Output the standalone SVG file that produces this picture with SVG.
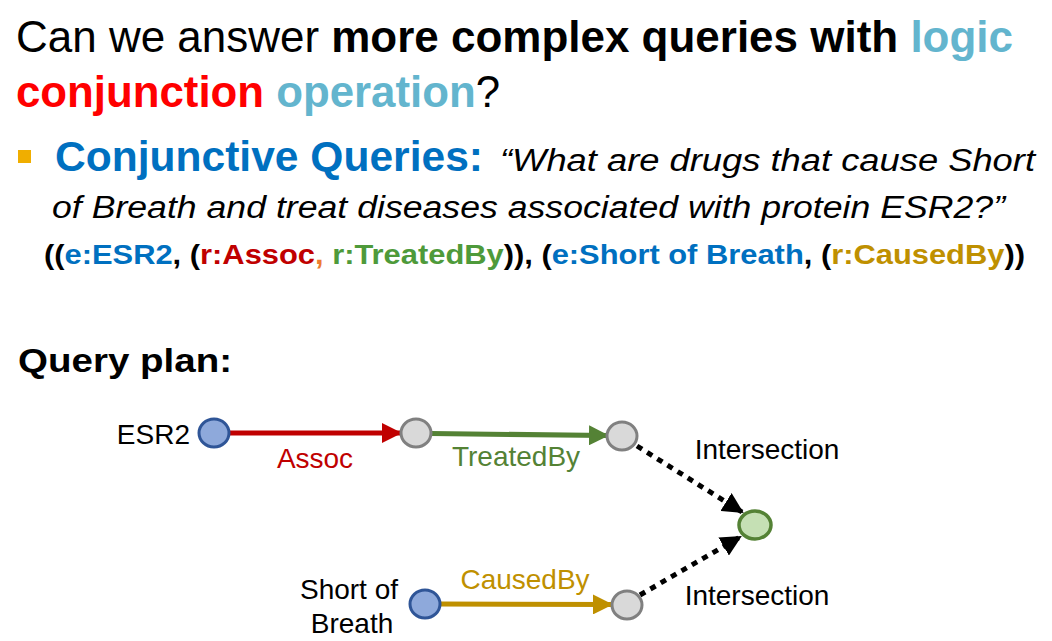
<svg xmlns="http://www.w3.org/2000/svg" width="1052" height="641" viewBox="0 0 1052 641">
<style>
.t{font-family:"Liberation Sans","Open Sans",Arial,sans-serif}
.b{font-weight:bold}
.lb{fill:#63B5CE}
.red{fill:#FF0000}
.blue{fill:#0070C0}
.dred{fill:#C00000}
.org{fill:#ED7D31}
.grn{fill:#4E9A3A}
.gold{fill:#BF9000}
.lab{font-family:"Liberation Sans",Arial,sans-serif;font-size:28px}
.gray{fill:#D9D9D9;stroke:#808080;stroke-width:3}
.bn{fill:#8EA9DB;stroke:#2F5597;stroke-width:3}
.gn{fill:#C5E0B4;stroke:#548235;stroke-width:3.5}
.dot{stroke:#000;stroke-width:5;stroke-dasharray:6 6;fill:none}
</style>
<defs>
<marker id="ar" viewBox="0 0 10 10" refX="9" refY="5" markerWidth="4" markerHeight="4" orient="auto" markerUnits="strokeWidth"><path d="M0,0 L10,5 L0,10 z" fill="#C00000"/></marker>
<marker id="ag" viewBox="0 0 10 10" refX="9" refY="5" markerWidth="4" markerHeight="4" orient="auto" markerUnits="strokeWidth"><path d="M0,0 L10,5 L0,10 z" fill="#548235"/></marker>
<marker id="ay" viewBox="0 0 10 10" refX="9" refY="5" markerWidth="4" markerHeight="4" orient="auto" markerUnits="strokeWidth"><path d="M0,0 L10,5 L0,10 z" fill="#BF9000"/></marker>
<marker id="ak" viewBox="0 0 10 10" refX="9" refY="5" markerWidth="4.2" markerHeight="4.2" orient="auto" markerUnits="strokeWidth"><path d="M0,0 L10,5 L0,10 z" fill="#000"/></marker>
</defs>
<g id="title">
<text class="t" x="16" y="52" font-size="44" textLength="997" lengthAdjust="spacingAndGlyphs">Can we answer <tspan class="b">more complex queries with </tspan><tspan class="b lb">logic</tspan></text>
<text class="t" x="16" y="107" font-size="44" textLength="484" lengthAdjust="spacingAndGlyphs"><tspan class="b red">conjunction </tspan><tspan class="b lb">operation</tspan>?</text>
</g>
<g id="bullet">
<rect x="18" y="150" width="13" height="13" fill="#F0AE00"/>
<text class="t b blue" x="55" y="171" font-size="43" textLength="428" lengthAdjust="spacingAndGlyphs">Conjunctive Queries:</text>
<text class="t" x="500" y="171" font-size="31" font-style="italic" textLength="535" lengthAdjust="spacingAndGlyphs">“What are drugs that cause Short</text>
<text class="t" x="52" y="218" font-size="31" font-style="italic" textLength="953" lengthAdjust="spacingAndGlyphs">of Breath and treat diseases associated with protein ESR2?”</text>
<text class="t b" x="44" y="264" font-size="28" textLength="981" lengthAdjust="spacingAndGlyphs">((<tspan class="blue">e:ESR2</tspan>, (<tspan class="dred">r:Assoc</tspan><tspan class="org">, </tspan><tspan class="grn">r:TreatedBy</tspan>)), (<tspan class="blue">e:Short of Breath</tspan>, (<tspan class="gold">r:CausedBy</tspan>))</text>
</g>
<g id="qp">
<text class="t b" x="18" y="372" font-size="33" textLength="214" lengthAdjust="spacingAndGlyphs">Query plan:</text>
</g>
<g id="connectors">
<line x1="229" y1="433" x2="400" y2="433" stroke="#C00000" stroke-width="5" marker-end="url(#ar)"/>
<line x1="431" y1="433.5" x2="607" y2="435.5" stroke="#548235" stroke-width="5" marker-end="url(#ag)"/>
<line x1="440" y1="604" x2="611" y2="604.5" stroke="#BF9000" stroke-width="5" marker-end="url(#ay)"/>
<line class="dot" x1="637" y1="446" x2="742" y2="512" marker-end="url(#ak)"/>
<line class="dot" x1="640" y1="595" x2="740" y2="537" marker-end="url(#ak)"/>
</g>
<g id="n-esr2">
<ellipse class="bn" cx="214" cy="433" rx="15" ry="14"/>
<text class="lab" x="190" y="444" text-anchor="end">ESR2</text>
</g>
<g id="n-mid1"><ellipse class="gray" cx="416" cy="433" rx="15" ry="14"/></g>
<g id="n-mid2"><ellipse class="gray" cx="622" cy="436" rx="15" ry="14"/></g>
<g id="n-sob">
<ellipse class="bn" cx="425" cy="604" rx="15" ry="14"/>
<text class="lab" x="349" y="599" text-anchor="middle">Short of</text>
<text class="lab" x="352" y="633" text-anchor="middle">Breath</text>
</g>
<g id="n-mid3"><ellipse class="gray" cx="627" cy="605" rx="15" ry="14"/></g>
<g id="n-int"><ellipse class="gn" cx="755" cy="525" rx="16" ry="14"/></g>
<g id="labels">
<text class="lab" x="315" y="468" text-anchor="middle" fill="#C00000">Assoc</text>
<text class="lab" x="516" y="466" text-anchor="middle" fill="#548235">TreatedBy</text>
<text class="lab" x="525" y="589" text-anchor="middle" fill="#BF9000">CausedBy</text>
<text class="lab" x="767" y="459" text-anchor="middle">Intersection</text>
<text class="lab" x="757" y="605" text-anchor="middle">Intersection</text>
</g>
</svg>
